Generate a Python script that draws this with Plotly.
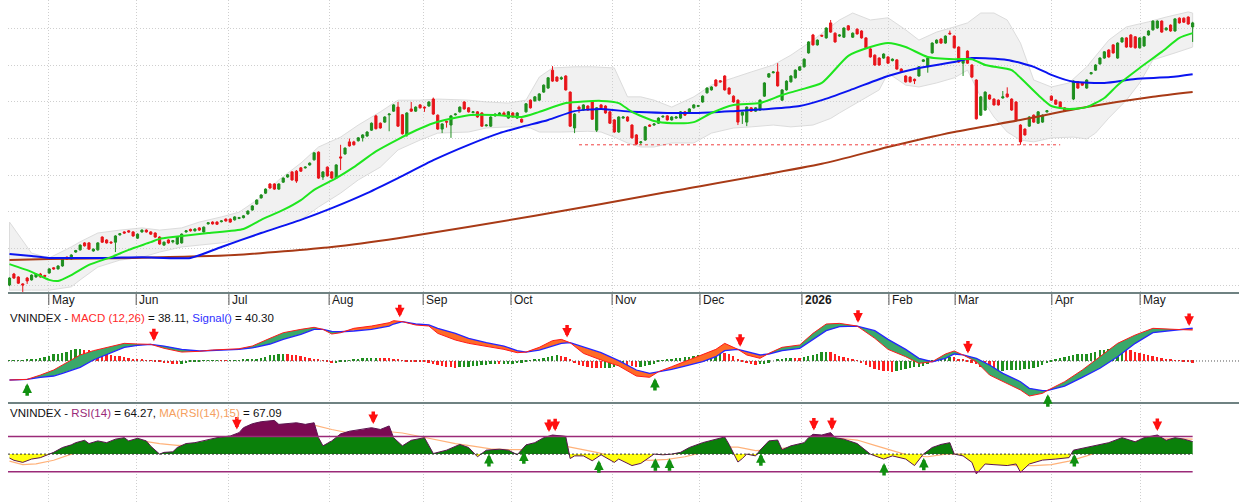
import numpy as np
import plotly.graph_objects as go

# ------------------------------------------------------------------ data
opens = [1200,1230,1222,1203,1219,1214,1222,1230,1226,1233,
 1247,1244,1252,1276,1271,1290,1296,1315,1315,1293,
 1296,1331,1323,1317,1317,1337,1345,1348,1345,1328,
 1345,1350,1345,1342,1331,1309,1323,1318,1312,1315,
 1345,1352,1348,1356,1345,1367,1372,1372,1373,1380,
 1380,1378,1382,1384,1394,1405,1421,1438,1451,1476,
 1476,1462,1481,1495,1509,1511,1520,1520,1528,1542,
 1563,1495,1522,1509,1492,1550,1558,1591,1591,1594,
 1602,1607,1623,1662,1642,1645,1665,1675,1686,1665,
 1610,1681,1675,1692,1686,1689,1708,1664,1626,1647,
 1637,1665,1673,1700,1684,1671,1673,1670,1635,1634,
 1662,1664,1670,1656,1670,1656,1653,1673,1705,1703,
 1705,1727,1738,1787,1768,1763,1771,1727,1629,1686,
 1678,1689,1700,1623,1692,1689,1673,1651,1618,1656,
 1659,1637,1610,1589,1596,1637,1637,1642,1659,1662,
 1651,1656,1656,1673,1670,1684,1688,1700,1725,1733,
 1760,1758,1771,1738,1716,1705,1664,1645,1684,1675,
 1678,1716,1768,1780,1782,1705,1733,1755,1766,1787,
 1796,1834,1883,1856,1882,1875,1916,1888,1880,1877,
 1908,1877,1899,1894,1875,1845,1828,1820,1820,1823,
 1813,1815,1790,1771,1768,1762,1771,1811,1796,1834,
 1861,1872,1861,1888,1880,1850,1806,1839,1801,1760,
 1664,1678,1719,1708,1705,1711,1722,1708,1700,1637,
 1626,1634,1664,1642,1645,1673,1716,1705,1700,1684,
 1681,1708,1755,1752,1738,1777,1787,1804,1820,1842,
 1856,1820,1864,1875,1883,1878,1848,1853,1883,1897,
 1902,1921,1897,1910,1894,1929,1929,1932,1905]
highs = [1221,1233,1224,1205,1222,1229,1232,1233,1228,1246,
 1249,1254,1273,1278,1284,1296,1311,1317,1317,1300,
 1317,1333,1325,1320,1336,1342,1347,1350,1347,1341,
 1352,1352,1347,1344,1333,1319,1325,1323,1333,1341,
 1350,1354,1355,1358,1360,1372,1374,1374,1377,1382,
 1382,1388,1386,1391,1404,1418,1434,1448,1464,1478,
 1478,1478,1494,1503,1511,1514,1522,1524,1535,1563,
 1565,1511,1524,1511,1530,1583,1576,1600,1594,1604,
 1612,1620,1644,1665,1644,1661,1669,1694,1700,1667,
 1672,1700,1688,1694,1688,1702,1712,1666,1642,1649,
 1664,1669,1688,1702,1686,1675,1675,1672,1639,1661,
 1669,1672,1674,1675,1672,1672,1655,1697,1707,1716,
 1724,1748,1768,1798,1770,1770,1773,1729,1669,1690,
 1694,1691,1702,1686,1694,1691,1675,1653,1661,1661,
 1661,1639,1612,1593,1634,1639,1642,1658,1663,1664,
 1661,1661,1675,1675,1683,1694,1692,1718,1740,1743,
 1762,1760,1773,1740,1718,1707,1674,1688,1686,1686,
 1707,1754,1779,1784,1806,1735,1759,1773,1789,1798,
 1819,1866,1886,1871,1884,1904,1924,1890,1885,1904,
 1910,1890,1901,1896,1877,1847,1830,1822,1833,1825,
 1819,1817,1792,1773,1770,1764,1798,1817,1822,1863,
 1871,1874,1882,1895,1882,1852,1819,1841,1803,1762,
 1716,1729,1721,1710,1707,1730,1740,1710,1702,1639,
 1628,1661,1666,1675,1666,1678,1718,1707,1702,1686,
 1683,1759,1757,1754,1762,1782,1803,1822,1839,1844,
 1858,1863,1877,1877,1885,1880,1877,1880,1896,1923,
 1923,1923,1904,1912,1929,1931,1931,1934,1919]
lows = [1197,1217,1203,1181,1203,1212,1220,1220,1222,1231,
 1242,1242,1250,1269,1269,1288,1294,1305,1296,1291,
 1294,1315,1313,1313,1290,1335,1340,1343,1332,1326,
 1343,1343,1337,1329,1310,1307,1313,1314,1310,1313,
 1343,1346,1346,1348,1343,1365,1365,1364,1371,1373,
 1370,1376,1380,1382,1392,1403,1419,1436,1449,1463,
 1460,1460,1479,1493,1485,1479,1509,1518,1526,1540,
 1490,1487,1496,1490,1490,1514,1556,1578,1581,1592,
 1592,1605,1621,1625,1627,1643,1620,1673,1632,1611,
 1605,1673,1673,1682,1673,1687,1665,1624,1615,1630,
 1602,1663,1671,1679,1671,1669,1657,1632,1633,1632,
 1660,1662,1662,1654,1657,1654,1643,1671,1682,1701,
 1703,1725,1736,1755,1755,1760,1731,1632,1615,1670,
 1676,1676,1651,1618,1682,1668,1640,1616,1616,1654,
 1646,1600,1583,1583,1594,1632,1635,1640,1657,1649,
 1649,1654,1654,1662,1668,1682,1686,1698,1723,1731,
 1742,1753,1731,1720,1698,1637,1640,1634,1673,1673,
 1676,1714,1766,1778,1742,1703,1731,1753,1764,1785,
 1794,1832,1854,1854,1878,1873,1889,1862,1878,1875,
 1895,1875,1884,1873,1846,1821,1799,1799,1818,1804,
 1811,1788,1780,1753,1753,1749,1769,1809,1780,1832,
 1859,1859,1859,1884,1846,1807,1771,1804,1766,1652,
 1662,1676,1706,1690,1690,1709,1712,1676,1649,1583,
 1608,1632,1643,1640,1643,1671,1703,1692,1684,1673,
 1676,1705,1736,1744,1736,1775,1785,1802,1818,1821,
 1832,1818,1862,1848,1848,1846,1846,1851,1881,1895,
 1900,1889,1895,1892,1892,1914,1916,1911,1864]
closes = [1219,1219,1205,1200,1211,1227,1230,1222,1224,1244,
 1244,1252,1271,1271,1282,1294,1309,1307,1298,1298,
 1315,1317,1315,1315,1334,1340,1342,1345,1334,1339,
 1350,1345,1339,1331,1312,1317,1315,1321,1331,1339,
 1348,1348,1353,1350,1358,1370,1367,1366,1375,1375,
 1372,1386,1384,1389,1402,1416,1432,1446,1462,1465,
 1462,1476,1492,1501,1487,1484,1511,1522,1533,1561,
 1492,1509,1498,1492,1528,1547,1574,1580,1583,1602,
 1610,1618,1642,1627,1629,1659,1667,1692,1634,1613,
 1670,1675,1686,1684,1684,1700,1667,1626,1640,1645,
 1662,1667,1686,1681,1673,1673,1659,1634,1637,1659,
 1667,1670,1664,1673,1659,1670,1645,1695,1684,1714,
 1722,1746,1766,1757,1757,1766,1733,1634,1667,1681,
 1692,1678,1653,1684,1684,1670,1642,1618,1659,1659,
 1648,1602,1585,1591,1632,1634,1640,1656,1661,1651,
 1659,1659,1673,1664,1681,1692,1690,1716,1738,1741,
 1744,1755,1733,1722,1700,1645,1672,1686,1675,1684,
 1705,1752,1777,1782,1744,1733,1757,1771,1787,1796,
 1817,1864,1856,1869,1880,1902,1891,1864,1883,1902,
 1897,1888,1886,1875,1848,1823,1801,1801,1831,1806,
 1817,1790,1782,1755,1755,1758,1796,1815,1820,1861,
 1869,1861,1880,1886,1848,1809,1817,1806,1768,1654,
 1714,1727,1708,1692,1692,1714,1714,1678,1651,1591,
 1610,1659,1645,1673,1664,1676,1705,1694,1686,1675,
 1678,1757,1738,1746,1760,1780,1801,1820,1837,1823,
 1834,1861,1875,1850,1850,1848,1875,1878,1894,1921,
 1921,1891,1902,1894,1927,1916,1918,1913,1916]

ma20_x = [0,5,9,11,14,18,23,27,32,34,37,45,53,57,62,66,69,74,78,83,88,92,96,104,111,116,120,126,134,138,141,
          146,150,155,159,164,170,175,179,184,190,195,199,203,208,214,218,221,227,229,233,
          236,240,244,248,251,256,261,265,268]
ma20_v = [1257,1236,1214,1211,1227,1255,1276,1296,1317,1326,1331,1342,1353,1378,1405,1432,1460,1492,1522,1565,1598,1622,1642,1664,1664,1659,1673,1697,1703,1697,1673,
          1648,1642,1645,1670,1692,1697,1719,1733,1752,1826,1850,1861,1850,1823,1817,1817,1801,1787,1766,1719,
          1689,1681,1686,1711,1746,1793,1837,1875,1888]
ma50_x = [0,5,9,15,22,30,41,48,57,66,73,81,88,96,104,111,116,122,128,134,141,149,156,164,172,179,184,191,199,206,
          214,218,226,232,236,241,248,255,263,268]
ma50_v = [1285,1279,1274,1274,1274,1276,1274,1304,1342,1378,1410,1451,1492,1541,1583,1615,1632,1651,1675,1681,1673,1670,1670,1675,1681,1689,1705,1735,1771,1793,
          1809,1820,1815,1796,1774,1755,1752,1763,1768,1776]
ma200_x = [0,9,28,51,73,88,119,149,184,199,214,229,244,259,268]
ma200_v = [1268,1271,1274,1282,1304,1328,1389,1454,1531,1577,1618,1651,1686,1714,1727]

bb_up_x = [0,5,9,14,16,20,25,30,34,39,43,48,52,57,61,66,70,75,79,84,88,93,97,104,108,113,117,120,123,128,
           132,137,140,143,146,150,155,159,164,168,173,177,182,188,191,195,199,203,206,210,
           214,217,220,223,226,229,232,236,240,244,249,253,258,262,267,268]
bb_up_v = [1372,1287,1274,1304,1318,1342,1350,1356,1350,1356,1372,1386,1399,1440,1487,1533,1577,1604,1637,1673,1705,1705,1708,1705,1700,1697,1705,1768,1793,1796,
           1796,1793,1714,1714,1705,1686,1714,1746,1766,1782,1801,1828,1869,1924,1943,1924,1930,1897,1869,1891,
           1905,1916,1943,1943,1924,1861,1760,1741,1752,1796,1869,1905,1919,1932,1946,1943]
bb_lo_x = [0,5,9,14,16,20,25,30,34,39,43,48,52,57,61,66,70,75,79,84,88,93,97,104,108,113,118,120,125,131,
           134,137,140,143,146,150,155,159,164,168,173,177,182,186,188,193,197,199,203,206,
           210,214,217,220,223,226,229,232,236,241,244,246,249,253,256,259,264,268]
bb_lo_v = [1186,1186,1186,1195,1214,1249,1268,1276,1290,1304,1309,1315,1323,1342,1358,1378,1413,1451,1487,1522,1569,1596,1615,1618,1629,1632,1629,1618,1618,1620,
           1618,1604,1588,1577,1577,1588,1588,1615,1629,1632,1637,1632,1637,1655,1670,1705,1733,1779,1746,1741,
           1752,1766,1787,1714,1659,1618,1596,1591,1602,1604,1599,1615,1656,1705,1752,1815,1834,1850]

support_level = 1583
support_from, support_to = 129, 238

month_pos = [8.9, 28.7, 49.7, 72.4, 93.7, 113.6, 136.5, 156.4, 179.5, 199.2, 214.2, 236.1, 256.1]
month_labels = ["May", "Jun", "Jul", "Aug", "Sep", "Oct", "Nov", "Dec", "<b>2026</b>", "Feb", "Mar", "Apr", "May"]
price_grid = [1200, 1300, 1400, 1500, 1600, 1700, 1800, 1900]

macd_x = [0,4,7,10,12,16,19,23,26,29,32,35,39,43,46,52,55,59,62,66,69,71,73,75,78,82,86,87,89,92,
          95,97,101,104,108,112,115,117,120,123,125,127,130,134,138,142,145,147,150,153,
          157,160,162,165,167,170,172,175,179,182,185,188,192,196,199,203,206,209,212,214,
          216,219,222,225,229,231,234,235,239,243,247,251,255,259,264,268]
macd_v = [-23.4,-22.6,-17.3,-11.1,-4.9,7.4,12.7,17.6,21.7,20.9,20.5,15.6,11.0,11.9,13.5,15.1,18.4,27.9,34.8,38.9,
          41.4,38.9,33.2,34.8,40.2,43.0,47.1,49.6,48.4,44.3,43.0,34.0,25.8,21.7,18.4,14.3,10.2,11.0,16.8,25.0,
          26.6,22.5,9.4,1.2,-6.0,-18.5,-20.1,-13.2,-7.0,-0.9,7.4,14.3,21.7,14.3,7.4,3.3,9.4,16.8,19.7,34.0,
          45.5,46.3,43.0,27.9,14.3,5.3,-2.9,-0.9,8.6,12.3,7.4,-0.9,-17.3,-25.5,-35.7,-43.1,-39.8,-36.5,-25.5,-11.1,
          5.3,21.7,32.0,40.2,38.9,38.11]
signal_v = [-23.4,-22.6,-20.1,-18.5,-15.2,-7.8,1.2,10.2,16.8,19.2,20.5,18.4,14.3,12.3,12.7,14.3,16.0,20.9,26.6,32.8,
            38.9,38.9,36.5,36.0,36.9,38.9,43.0,45.5,48.4,45.5,44.3,40.2,34.0,27.9,22.5,18.4,12.7,11.0,13.5,18.4,
            21.7,22.5,17.6,10.2,0.5,-11.1,-15.2,-13.2,-10.3,-6.2,-0.9,5.3,12.7,14.3,11.5,7.4,8.6,12.7,15.6,26.6,
            37.3,42.2,43.0,37.3,26.6,14.3,3.3,-0.9,3.3,8.6,7.4,3.3,-4.9,-15.2,-25.5,-33.6,-36.5,-36.5,-30.8,-20.1,
            -9.0,5.3,21.7,34.8,38.1,40.30]
macd_hist = [0.5,0.5,0.8,1.0,1.5,2,2.5,3.5,5,6.5,
 8,9,10,11.5,13,14.5,15,14,13,12,
 11,9.5,8.5,7.5,6.5,6,5,4,3,2,
 1.5,1,0.3,-0.8,-1.5,-2.5,-3,-3.3,-3.5,-3.3,
 -2.5,-1.8,-1,-0.3,0.2,0.5,0.8,1,0.8,0.7,
 0.8,0.9,1,1.3,1.8,2.3,3,4.2,5.5,7,
 7.5,8,8.3,8.2,7.6,7,6.2,5,4,2.8,
 1.5,0.2,-1.5,-3,-2.5,-1.5,-0.5,0.8,1.8,3,
 3.5,3.8,4,4.2,4,3.8,3.6,3,2,0.5,
 -0.5,-1,-1.2,-1.3,-1.4,-2,-3.5,-5,-6.2,-7,
 -7.8,-8.2,-8,-7.5,-7,-6.3,-5.8,-5.2,-4.5,-4.2,
 -4,-4.2,-4.1,-3.8,-3.3,-2.8,-2.4,-1,0.5,1.8,
 3,4.2,5.5,6.5,6.8,6,4.5,1.5,-3,-5,
 -6.5,-8,-8.5,-9,-9.2,-9,-8.5,-7.5,-6.5,-5.5,
 -5.8,-6.5,-7,-7,-6.2,-5,-3.5,-1.5,0.5,1.5,
 2.5,3.3,4,4.6,5.2,6,7,7.8,8.3,8.8,
 9.2,9.5,9.3,8.5,6,3,-0.5,-2.5,-4,-4.5,
 -4.2,-3.5,-2,0,1.5,3,4,4.2,4.1,4,
 4.5,6,7.5,9,10.5,11.5,11,8,6.5,
 5,3.5,2,0.5,-2.5,-5,-7.5,-9.5,-11,-12,
 -12.5,-13,-12.5,-11.5,-10,-9,-8,-7,-6,-4,
 -1.5,1,3,5,5.5,4.5,3,1.5,-0.5,-2,
 -4,-7,-10,-12,-13,-13,-12,-11,-10.5,-10.5,
 -10.5,-10,-9.5,-9,-7,-5,-2.5,-0.5,1.5,3.5,
 5,6,7,8,8.5,9,10,11.5,13,14,
 15,15.8,16.2,16.4,15,13,11,9.5,8.5,7.5,
 6.5,5.5,3.5,2.5,1.5,1,0.5,-0.5,-1.5,-2.2]
macd_sell = [32.7, 88.4, 126.3, 165.5, 192.2, 217.1, 267.2]
macd_buy = [4.0, 146.2, 235.2]

rsi_x = [0,1,3,5,7,9,10,12,14,15,17,18,20,22,24,26,27,29,31,32,34,35,37,38,40,42,44,47,50,52,
         53,55,57,60,61,63,65,67,69,70,71,73,75,77,80,82,84,86,87,89,91,94,96,99,102,104,106,108,111,113,
         115,117,119,121,123,125,126,127,128,130,132,134,136,137,138,141,143,145,146,148,150,152,154,157,160,162,163,165,166,167,
         169,170,172,174,175,177,180,181,182,184,186,187,189,192,195,196,198,200,203,205,207,209,211,213,214,216,218,219,221,223,
         226,228,229,231,234,237,240,241,244,247,249,252,255,257,260,262,264,266,268]
rsi_v = [45.5,43,40.6,44.4,46,50,52,57.5,60.5,63,65.7,62,65,63,67,68.7,65,68,65,59,50,52,52.6,57.5,62,63,65,68.7,70.6,74.4,
         80,84.5,86.8,88.3,83.8,84.5,85.6,83.8,85.6,68.7,59.4,65,73,76,78,80,78,82,68.7,59.4,65.7,68.7,50.7,54.5,61,57.5,47,54.5,55.6,54.5,
         49.2,60.5,63,68.7,71.7,71,70,45,48,48,42.5,49.2,43.2,40.6,44.4,37,39.5,46,50,49.2,50,52,57.5,63,67,69.5,61,41,45,50,
         48,54.5,65,66,55,59.4,63,68.7,72.5,71.7,74.4,68.7,67,62,50,48,44.4,48,44.4,37,50,57.5,61,63,50,48,40.6,27.5,38.8,38,
         37,38.8,29.4,38.8,43.2,44.4,46,54.5,57.5,60.5,63,68.7,64,68.7,71.7,65.7,68.7,67,64.27]
rsi_ma_x = [0,3,6,10,14,18,22,26,30,34,38,42,46,50,54,58,62,65,69,73,77,81,85,89,93,97,101,105,109,113,
            117,121,125,129,133,137,141,145,149,153,157,161,165,169,173,177,181,185,188,192,
            196,200,204,208,212,216,220,224,228,232,236,240,244,248,252,256,260,264,268]
rsi_ma_v = [42,38,39,43,50,56,60,63,65,62,60,60,61,64,70,76,80,83,83,78,74,74,76,74,70,66,62,59,56,55,
            55,57,60,56,52,47,44,43,44,47,52,58,58,54,55,58,62,66,68,66,
            60,54,48,47,50,50,45,40,37,37,38,42,48,55,62,65,67,67.5,67.09]
rsi_sell = [51.5, 82.4, 122.2, 123.6, 182.2, 186.3, 260.0]
rsi_buy = [108.6, 116.5, 133.5, 146.3, 149.5, 170.2, 198.1, 207.1, 241.2]

# ------------------------------------------------------------------ layout constants
W, H = 1239, 502
FONT = "Liberation Sans, Arial, sans-serif"
GREEN_C, RED_C = "#1f8f1f", "#e8141a"
XR = [-0.34, 278.5]


def pfrac(px):
    return 1 - px / H


def crossings(xs, a, b):
    """split two series into runs between crossings (geometry only)."""
    xs, a, b = map(np.asarray, (xs, a, b))
    d = a - b
    segs, cx, ca, cb = [], [xs[0]], [a[0]], [b[0]]
    for k in range(1, len(xs)):
        if d[k - 1] * d[k] < 0:
            t = d[k - 1] / (d[k - 1] - d[k])
            xc = xs[k - 1] + t * (xs[k] - xs[k - 1])
            yc = a[k - 1] + t * (a[k] - a[k - 1])
            cx.append(xc); ca.append(yc); cb.append(yc)
            segs.append((cx, ca, cb))
            cx, ca, cb = [xc], [yc], [yc]
        cx.append(xs[k]); ca.append(a[k]); cb.append(b[k])
    segs.append((cx, ca, cb))
    return segs


def insert_levels(xs, ys, levels):
    ox, oy = [xs[0]], [ys[0]]
    for k in range(1, len(xs)):
        x0, y0, x1, y1 = xs[k - 1], ys[k - 1], xs[k], ys[k]
        cs = []
        for L in levels:
            if (y0 - L) * (y1 - L) < 0:
                t = (L - y0) / (y1 - y0)
                cs.append((t, x0 + t * (x1 - x0), L))
        for _, cxx, cyy in sorted(cs):
            ox.append(cxx); oy.append(cyy)
        ox.append(x1); oy.append(y1)
    return np.array(ox), np.array(oy)


fig = go.Figure()

# ---------------- price panel
idx = list(range(len(closes)))
fig.add_trace(go.Candlestick(
    x=idx, open=opens, high=highs, low=lows, close=closes,
    increasing=dict(line=dict(color=GREEN_C, width=1), fillcolor=GREEN_C),
    decreasing=dict(line=dict(color=RED_C, width=1), fillcolor=RED_C),
    whiskerwidth=0, xaxis="x", yaxis="y", hoverinfo="skip", showlegend=False))

fig.add_trace(go.Scatter(x=ma200_x, y=ma200_v, mode="lines", line=dict(color="#a83a16", width=2, shape="spline", smoothing=0.6),
                         xaxis="x", yaxis="y", hoverinfo="skip"))
fig.add_trace(go.Scatter(x=ma50_x, y=ma50_v, mode="lines", line=dict(color="#0a14f0", width=2, shape="spline", smoothing=0.6),
                         xaxis="x", yaxis="y", hoverinfo="skip"))
fig.add_trace(go.Scatter(x=ma20_x, y=ma20_v, mode="lines", line=dict(color="#1ee61e", width=2, shape="spline", smoothing=0.6),
                         xaxis="x", yaxis="y", hoverinfo="skip"))
fig.add_trace(go.Scatter(x=[support_from, support_to], y=[support_level, support_level], mode="lines",
                         line=dict(color="#f04040", width=1, dash="3px,3px"), xaxis="x", yaxis="y", hoverinfo="skip"))

shapes = []
bb_pts = list(zip(bb_up_x, bb_up_v)) + list(zip(bb_lo_x, bb_lo_v))[::-1]
bb_path = "M " + " L ".join(f"{x},{y}" for x, y in bb_pts) + " Z"
shapes.append(dict(type="path", path=bb_path, xref="x", yref="y", fillcolor="#f1f1f1",
                   line=dict(color="#dcdcdc", width=1), layer="below"))

# ---------------- MACD panel
hist_colors = [GREEN_C if (k == 0 or macd_hist[k] >= macd_hist[k - 1]) else "#ff2020" for k in range(len(macd_hist))]
fig.add_trace(go.Bar(x=list(range(len(macd_hist))), y=macd_hist, width=0.42, marker=dict(color=hist_colors, line=dict(width=0)),
                     xaxis="x2", yaxis="y2", hoverinfo="skip"))
fig.add_trace(go.Scatter(x=XR, y=[0, 0], mode="lines", line=dict(color="#555555", width=1, dash="1px,2px"),
                         xaxis="x2", yaxis="y2", hoverinfo="skip"))
for sx, sa, sb in crossings(macd_x, macd_v, signal_v):
    sgn = np.sum(np.array(sa) - np.array(sb))
    col = "#3aa86a" if sgn >= 0 else "#ff6a26"
    fig.add_trace(go.Scatter(x=list(sx) + list(sx)[::-1], y=list(sa) + list(sb)[::-1], mode="lines",
                             fill="toself", fillcolor=col, line=dict(width=0), xaxis="x2", yaxis="y2", hoverinfo="skip"))
fig.add_trace(go.Scatter(x=macd_x, y=signal_v, mode="lines", line=dict(color="#2525ff", width=1.3),
                         xaxis="x2", yaxis="y2", hoverinfo="skip"))
fig.add_trace(go.Scatter(x=macd_x, y=macd_v, mode="lines", line=dict(color="#ff1a1a", width=1),
                         xaxis="x2", yaxis="y2", hoverinfo="skip"))

# ---------------- RSI panel
fig.add_trace(go.Scatter(x=rsi_ma_x, y=rsi_ma_v, mode="lines", line=dict(color="#ffb27a", width=1.2),
                         xaxis="x3", yaxis="y3", hoverinfo="skip"))
rx, ry = insert_levels(rsi_x, rsi_v, [30, 50, 70])
bands = [(50, 70, 50, "#0a800a"), (70, 200, 70, "#7a0a52"), (30, 50, 50, "#ffff10"), (-50, 30, 30, "#9a0a4a")]
for lo, hi, base, col in bands:
    yy = np.clip(ry, lo, hi)
    fig.add_trace(go.Scatter(x=list(rx) + list(rx)[::-1], y=list(yy) + [base] * len(rx), mode="lines",
                             fill="toself", fillcolor=col, line=dict(width=0), xaxis="x3", yaxis="y3", hoverinfo="skip"))
fig.add_trace(go.Scatter(x=rsi_x, y=rsi_v, mode="lines", line=dict(color="#5c1450", width=1),
                         xaxis="x3", yaxis="y3", hoverinfo="skip"))
for lvl, col, dash, wd in [(70, "#9a2a78", "solid", 1.5), (30, "#9a2a78", "solid", 1.5), (50, "#333333", "2px,2px", 1)]:
    fig.add_trace(go.Scatter(x=[XR[0], max(rsi_x)], y=[lvl, lvl], mode="lines", line=dict(color=col, width=wd, dash=dash),
                             xaxis="x3", yaxis="y3", hoverinfo="skip"))

# ---------------- annotations
ann = []
for p, lab in zip(month_pos, month_labels):
    ann.append(dict(x=p, y=pfrac(300), xref="x", yref="paper", text=lab, showarrow=False, xanchor="left",
                    yanchor="middle", xshift=1, font=dict(family=FONT, size=12, color="#1a1a1a")))
    shapes.append(dict(type="line", x0=p, x1=p, y0=pfrac(293), y1=pfrac(305), xref="x", yref="paper",
                       line=dict(color="#555555", width=1)))


def arrow(x, y, xa, ya, color, down):
    return dict(x=x, y=y, xref=xa, yref=ya, text="", showarrow=True, arrowhead=2, arrowsize=0.55,
                arrowwidth=3.5, arrowcolor=color, ax=0, ay=(-14 if down else 14), yshift=(4 if down else -4))


for s in macd_sell:
    ann.append(arrow(s, float(np.interp(s, macd_x, macd_v)), "x2", "y2", "#ff1010", True))
for s in macd_buy:
    ann.append(arrow(s, float(np.interp(s, macd_x, macd_v)), "x2", "y2", "#109010", False))
for s in rsi_sell:
    ann.append(arrow(s, float(np.interp(s, rsi_x, rsi_v)), "x3", "y3", "#ff1010", True))
for s in rsi_buy:
    ann.append(arrow(s, float(np.interp(s, rsi_x, rsi_v)), "x3", "y3", "#109010", False))

ann.append(dict(x=0, y=pfrac(318), xref="paper", yref="paper", xanchor="left", yanchor="middle", showarrow=False,
                text="VNINDEX - <span style='color:#ff2a2a'>MACD (12,26)</span> = 38.11, "
                     "<span style='color:#3030ff'>Signal()</span> = 40.30",
                font=dict(family=FONT, size=11.5, color="#111111")))
ann.append(dict(x=0, y=pfrac(413), xref="paper", yref="paper", xanchor="left", yanchor="middle", showarrow=False,
                text="VNINDEX - <span style='color:#9a2a78'>RSI(14)</span> = 64.27, "
                     "<span style='color:#f5a060'>MA(RSI(14),15)</span> = 67.09",
                font=dict(family=FONT, size=11.5, color="#111111")))

# panel separators
for py in (293, 403):
    shapes.append(dict(type="line", x0=0, x1=1, y0=pfrac(py), y1=pfrac(py), xref="paper", yref="paper",
                       line=dict(color="#6f8282", width=2)))

grid = dict(showgrid=True, gridcolor="#cfcfcf", griddash="1px,2px", gridwidth=1, zeroline=False,
            showticklabels=False, ticks="", showline=False)
xax = dict(range=XR, tickvals=month_pos, **grid)
fig.update_layout(
    width=W, height=H, margin=dict(l=8, r=0, t=0, b=0), paper_bgcolor="white", plot_bgcolor="white",
    showlegend=False, font=dict(family=FONT),
    xaxis=dict(domain=[0, 1], anchor="y", rangeslider=dict(visible=False), **xax),
    yaxis=dict(domain=[pfrac(292), 1], range=[1180.9, 1978.6], tickvals=price_grid, **grid),
    xaxis2=dict(domain=[0, 1], anchor="y2", **xax),
    yaxis2=dict(domain=[pfrac(403), pfrac(295)], range=[-51.7, 81.2], tickvals=[], **grid),
    xaxis3=dict(domain=[0, 1], anchor="y3", **xax),
    yaxis3=dict(domain=[0, pfrac(405)], range=[-4.4, 105.8], tickvals=[], **grid),
    shapes=shapes, annotations=ann, bargap=0,
)

fig.write_html("out.html", config={"displayModeBar": False},
               post_script="document.body.style.margin='0';document.body.style.overflow='hidden';")
